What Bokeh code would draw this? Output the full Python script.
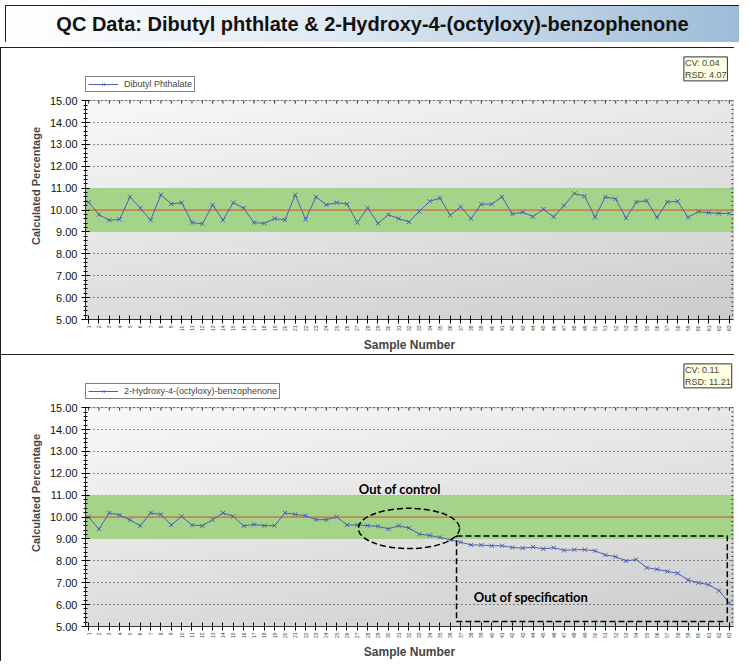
import math
import numpy as np
from bokeh.plotting import figure
from bokeh.models import (BoxAnnotation, Span, Legend, LegendItem, FixedTicker,
                          SingleIntervalTicker, PrintfTickFormatter, Label, Div, Range1d)
from bokeh.layouts import column
from bokeh.core.properties import value
from bokeh.embed import file_html
from bokeh.resources import INLINE

# ---------------- data ----------------
samples = list(range(1, 64))

dibutyl = [10.36, 9.79, 9.54, 9.57, 10.60, 10.09, 9.54, 10.70, 10.28, 10.34,
           9.43, 9.37, 10.24, 9.54, 10.34, 10.09, 9.43, 9.39, 9.61, 9.55,
           10.70, 9.57, 10.60, 10.24, 10.34, 10.28, 9.43, 10.10, 9.39, 9.79,
           9.61, 9.46, 9.94, 10.40, 10.55, 9.76, 10.15, 9.61, 10.27, 10.27,
           10.60, 9.82, 9.90, 9.70, 10.04, 9.69, 10.21, 10.76, 10.63, 9.67,
           10.60, 10.51, 9.63, 10.37, 10.43, 9.66, 10.37, 10.40, 9.66, 9.93,
           9.88, 9.85, 9.85]

hydroxy = [10.00, 9.45, 10.19, 10.09, 9.87, 9.60, 10.19, 10.12, 9.64, 10.03,
           9.64, 9.60, 9.88, 10.19, 10.03, 9.60, 9.66, 9.61, 9.61, 10.19,
           10.12, 10.06, 9.88, 9.88, 10.01, 9.64, 9.64, 9.61, 9.58, 9.46,
           9.60, 9.50, 9.22, 9.16, 9.07, 8.96, 8.85, 8.73, 8.72, 8.69,
           8.69, 8.61, 8.58, 8.63, 8.55, 8.60, 8.48, 8.51, 8.51, 8.46,
           8.27, 8.19, 8.00, 8.06, 7.69, 7.61, 7.52, 7.43, 7.13, 7.00,
           6.91, 6.64, 6.07]

series_names = ["Dibutyl Phthalate", "2-Hydroxy-4-(octyloxy)-benzophenone"]
stats_texts = ["CV: 0.04\nRSD: 4.07", "CV: 0.11\nRSD: 11.21"]
target = 10.0
spec_low, spec_high = 9.0, 11.0
y_min, y_max = 5.0, 15.0
y_ticks = list(range(5, 16))

# annotations (panel 2)
ooc_text, ooc_tx, ooc_ty = ["Out of control"], [31.1], [11.27]
ooc_x, ooc_y, ooc_w, ooc_h = [32.0], [9.48], [9.8], [1.84]
oos_text, oos_tx, oos_ty = ["Out of specification"], [43.8], [6.37]
oos_left, oos_right, oos_top, oos_bottom = [36.6], [62.8], [9.13], [5.23]

title_text = "QC Data: Dibutyl phthlate &amp; 2-Hydroxy-4-(octyloxy)-benzophenone"

# ---------------- layout / style ----------------
W = 734
H = 307
TOP, BOTTOM = 4, 33
Y_EXT = 17.2                      # room above the plot box for legend and stats box
X0, X1 = 0.7, 63.4
FRAME_H = H - TOP - BOTTOM
PPU = FRAME_H / (Y_EXT - y_min)   # pixels per y unit
LINE_COLOR = "#4b5fb3"
FONT = "Liberation Sans"

# background gradient image (light top-left -> darker bottom-right)
n = 64
u = np.linspace(0, 1, n)[None, :]
v = 1 - np.linspace(0, 1, n)[:, None]
g = (249 - 16 * u - 28 * v).astype(np.uint8)
img = np.empty((n, n), dtype=np.uint32)
view = img.view(dtype=np.uint8).reshape((n, n, 4))
view[:, :, 0] = g
view[:, :, 1] = g
view[:, :, 2] = g
view[:, :, 3] = 255

right_minor = [y_min + 0.2 * i for i in range(51)]


def make_panel(values, name, stats):
    p = figure(width=W, height=H, x_range=Range1d(X0, X1), y_range=Range1d(y_min, Y_EXT),
               output_backend="svg", toolbar_location=None,
               min_border_left=84, min_border_right=2,
               min_border_top=TOP, min_border_bottom=BOTTOM,
               border_fill_color="white", background_fill_color="white",
               outline_line_color=None)
    p.image_rgba(image=[img], x=X0, y=y_min, dw=X1 - X0, dh=y_max - y_min, level="image")

    # axes
    p.xaxis.ticker = FixedTicker(ticks=samples)
    p.xaxis.major_label_orientation = math.pi / 2
    p.xaxis.major_label_text_font_size = "5px"
    p.xaxis.major_label_text_font = FONT
    p.xaxis.major_tick_in = 4
    p.xaxis.major_tick_out = 4
    p.xaxis.minor_tick_line_color = None
    p.xaxis.major_label_standoff = 2
    p.xaxis.axis_label = "Sample Number"
    p.xaxis.axis_label_text_font = FONT
    p.xaxis.axis_label_text_font_size = "12px"
    p.xaxis.axis_label_text_font_style = "bold"
    p.xaxis.axis_label_standoff = 4
    p.xaxis.axis_line_color = "#333333"

    p.yaxis.ticker = SingleIntervalTicker(interval=1, num_minor_ticks=5)
    p.yaxis.bounds = (y_min, y_max)
    p.yaxis.formatter = PrintfTickFormatter(format="%.2f")
    p.yaxis.major_label_text_font = FONT
    p.yaxis.major_label_text_font_size = "11px"
    p.yaxis.major_label_text_color = "#111111"
    p.yaxis.major_tick_in = 4
    p.yaxis.major_tick_out = 4
    p.yaxis.minor_tick_in = 2
    p.yaxis.minor_tick_out = 2
    p.yaxis.major_label_standoff = 4
    p.yaxis.axis_label = "Calculated Percentage"
    p.yaxis.axis_label_text_font = FONT
    p.yaxis.axis_label_text_font_size = "11px"
    p.yaxis.axis_label_text_font_style = "bold"
    p.yaxis.axis_label_standoff = 5
    p.yaxis.axis_line_color = "#333333"

    p.xgrid.visible = False
    p.ygrid.ticker = FixedTicker(ticks=y_ticks)
    p.ygrid.grid_line_color = "#222222"
    p.ygrid.grid_line_dash = "1 3"
    p.ygrid.grid_line_width = 1

    band = BoxAnnotation(bottom=spec_low, top=spec_high, left=X0, right=X1,
                         fill_color="#a4d38a", fill_alpha=1.0, line_color=None, level="underlay")
    p.add_layout(band)
    p.add_layout(Span(location=target, dimension="width", line_color="#dc4b2a",
                      line_width=1, level="underlay"))

    # plot box outline and inward ticks on the top and right edges
    p.add_layout(BoxAnnotation(left=X0, right=X1, bottom=y_min, top=y_max, fill_alpha=0,
                               line_color="#333333", line_width=1, level="annotation"))
    p.segment(x0=samples, y0=[y_max] * len(samples), x1=samples,
              y1=[y_max - 3 / PPU] * len(samples), line_color="#333333", line_width=1)
    p.segment(x0=[X1] * len(right_minor), y0=right_minor,
              x1=[X1 - 0.2] * len(right_minor), y1=right_minor,
              line_color="#333333", line_width=1)

    lr = p.line(samples, values, line_color=LINE_COLOR, line_width=1)
    sr = p.scatter(samples, values, marker="x", size=6, line_color=LINE_COLOR, line_width=1)

    legend = Legend(items=[LegendItem(label=name, renderers=[lr, sr])],
                    location=(0, (y_max - y_min) * PPU + 6),
                    orientation="horizontal", label_text_font=FONT, label_text_font_size="9px",
                    glyph_width=30, glyph_height=8, label_height=8, label_standoff=6,
                    padding=2, margin=0, spacing=0, border_line_color="black",
                    border_line_width=1, background_fill_color="white", background_fill_alpha=1)
    p.add_layout(legend)

    p.add_layout(Label(x=58.6, y=17.0, text=stats, text_font=FONT, text_font_size="9px",
                       text_baseline="top", text_align="left",
                       background_fill_color="#ffffe1", border_line_color="#333333",
                       padding=1))
    p.styles = {"border-left": "1px solid #222222", "border-top": "1px solid #222222"}
    return p


p1 = make_panel(dibutyl, series_names[0], stats_texts[0])
p2 = make_panel(hydroxy, series_names[1], stats_texts[1])

p2.ellipse(x=ooc_x, y=ooc_y, width=ooc_w, height=ooc_h, fill_color=None,
           line_color="black", line_dash="6 3", line_width=1.5)
p2.quad(left=oos_left, right=oos_right, top=oos_top, bottom=oos_bottom, fill_color=None,
        line_color="black", line_dash="6 3", line_width=1.5)
p2.text(x=ooc_tx, y=ooc_ty, text=ooc_text, text_font=value("Lato"), text_font_style="bold",
        text_font_size="13px", text_align="center", text_baseline="middle", text_color="black")
p2.text(x=oos_tx, y=oos_ty, text=oos_text, text_font=value("Lato"), text_font_style="bold",
        text_font_size="13px", text_align="center", text_baseline="middle", text_color="black")

title = Div(text=('<div style="width:%dpx;height:37px;line-height:37px;text-align:center;'
                  'font-family:\'Liberation Sans\';font-size:20px;font-weight:bold;color:#111;'
                  'background:linear-gradient(to right,#ffffff 0%%,#dfe9f2 45%%,#9ebcd8 100%%);'
                  'border-top:1px solid #222;border-left:1px solid #222;box-sizing:border-box;">'
                  '%s</div>') % (W, title_text), width=W, height=37)

layout = column(title, p1, p2, spacing=0)
open("out.html", "w").write(file_html(layout, INLINE))
